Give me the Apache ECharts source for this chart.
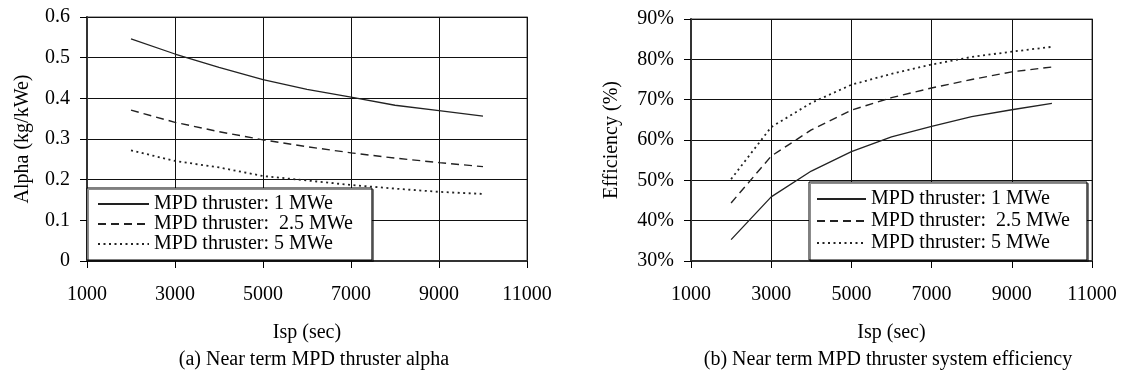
<!DOCTYPE html>
<html>
<head>
<meta charset="utf-8">
<script src="https://cdn.jsdelivr.net/npm/echarts@6/dist/echarts.min.js"></script>
<style>html,body{margin:0;padding:0;background:#fff}#c{width:1124px;height:376px}</style>
</head>
<body>
<div id="c"></div>
<script>
var isp = [2000, 3000, 4000, 5000, 6000, 7000, 8000, 9000, 10000];
var seriesNames = ['MPD thruster: 1 MWe', 'MPD thruster:  2.5 MWe', 'MPD thruster: 5 MWe'];
var alpha1 = [0.546, 0.509, 0.476, 0.446, 0.422, 0.403, 0.383, 0.370, 0.356];
var alpha25 = [0.371, 0.341, 0.318, 0.298, 0.281, 0.266, 0.253, 0.242, 0.232];
var alpha5 = [0.272, 0.246, 0.230, 0.209, 0.198, 0.187, 0.178, 0.170, 0.165];
var eff1 = [35.3, 45.9, 52.3, 57.1, 60.8, 63.4, 65.8, 67.5, 69.1];
var eff25 = [44.4, 56.0, 62.5, 67.4, 70.5, 72.9, 75.0, 76.9, 78.1];
var eff5 = [50.3, 63.2, 69.2, 73.7, 76.4, 78.7, 80.6, 81.9, 83.1];

var FONT = '"Liberation Serif", "Times New Roman", serif';
function pairs(ys) { return isp.map(function (x, i) { return [x, ys[i]]; }); }
var styles = [
  { type: 'solid', width: 1.3 },
  { type: [8, 5], width: 1.4 },
  { type: [2, 3.5], width: 1.8 }
];
function mk(name, idx, ys, k) {
  return {
    type: 'line', name: name, xAxisIndex: idx, yAxisIndex: idx,
    data: pairs(ys), symbol: 'none', smooth: false,
    lineStyle: { color: '#222', width: styles[k].width, type: styles[k].type },
    itemStyle: { color: '#222' },
    emphasis: { disabled: true }
  };
}
var labelStyle = { color: '#000', fontSize: 20, fontFamily: FONT };
function xAx(idx) {
  return {
    type: 'value', gridIndex: idx, min: 1000, max: 11000, interval: 2000,
    name: 'Isp (sec)', nameLocation: 'middle', nameGap: 62,
    nameTextStyle: labelStyle,
    axisLine: { show: true, onZero: false, lineStyle: { color: '#333', width: 2 } },
    axisTick: { show: true, length: 7, lineStyle: { color: '#000' } },
    axisLabel: Object.assign({ margin: 24, formatter: function (v) { return String(v); } }, labelStyle),
    splitLine: { show: true, lineStyle: { color: '#111', width: 1 } }
  };
}
function legendCfg(left, top, gap, w, pad) {
  return {
    data: seriesNames, orient: 'vertical', left: left, top: top, itemGap: gap, itemWidth: w, itemHeight: 14,
    padding: pad, borderColor: '#000', borderWidth: 1, backgroundColor: '#fff',
    shadowColor: 'rgba(0,0,0,0.45)', shadowOffsetX: 1.5, shadowOffsetY: 1.5,
    itemStyle: { opacity: 0 },
    textStyle: labelStyle, selectedMode: false
  };
}
var option = {
  animation: false,
  backgroundColor: '#fff',
  title: [
    { text: '(a) Near term MPD thruster alpha', left: 314, top: 350, textAlign: 'center', padding: 0,
      textStyle: { color: '#000', fontSize: 20, fontWeight: 'normal', fontFamily: FONT } },
    { text: '(b) Near term MPD thruster system efficiency', left: 888, top: 350, textAlign: 'center', padding: 0,
      textStyle: { color: '#000', fontSize: 20, fontWeight: 'normal', fontFamily: FONT } }
  ],
  grid: [
    { left: 87, right: 597, top: 17, bottom: 115, show: true, borderColor: '#888', borderWidth: 1.5, backgroundColor: 'transparent' },
    { left: 691, right: 32, top: 19, bottom: 115, show: true, borderColor: '#888', borderWidth: 1.5, backgroundColor: 'transparent' }
  ],
  legend: [
    legendCfg(87, 188, 0, 51, [6, 19, 6, 10]),
    legendCfg(809, 182, 2, 49, [7, 17, 7, 7])
  ],
  xAxis: [xAx(0), xAx(1)],
  yAxis: [
    { type: 'value', gridIndex: 0, min: 0, max: 0.6, interval: 0.1,
      name: 'Alpha (kg/kWe)', nameLocation: 'middle', nameGap: 54, nameTextStyle: labelStyle,
      axisLine: { show: true, lineStyle: { color: '#333', width: 2 } },
      axisTick: { show: true, length: 7, lineStyle: { color: '#000' } },
      axisLabel: Object.assign({ margin: 17 }, labelStyle),
      splitLine: { show: true, lineStyle: { color: '#111', width: 1 } } },
    { type: 'value', gridIndex: 1, min: 30, max: 90, interval: 10,
      name: 'Efficiency (%)', nameLocation: 'middle', nameGap: 69, nameTextStyle: labelStyle,
      axisLine: { show: true, lineStyle: { color: '#333', width: 2 } },
      axisTick: { show: true, length: 7, lineStyle: { color: '#000' } },
      axisLabel: Object.assign({ margin: 17, formatter: '{value}%' }, labelStyle),
      splitLine: { show: true, lineStyle: { color: '#111', width: 1 } } }
  ],
  series: [
    mk(seriesNames[0], 0, alpha1, 0),
    mk(seriesNames[1], 0, alpha25, 1),
    mk(seriesNames[2], 0, alpha5, 2),
    mk(seriesNames[0], 1, eff1, 0),
    mk(seriesNames[1], 1, eff25, 1),
    mk(seriesNames[2], 1, eff5, 2)
  ]
};
var chart = echarts.init(document.getElementById('c'), null, { renderer: 'canvas' });
chart.setOption(option);
</script>
</body>
</html>
